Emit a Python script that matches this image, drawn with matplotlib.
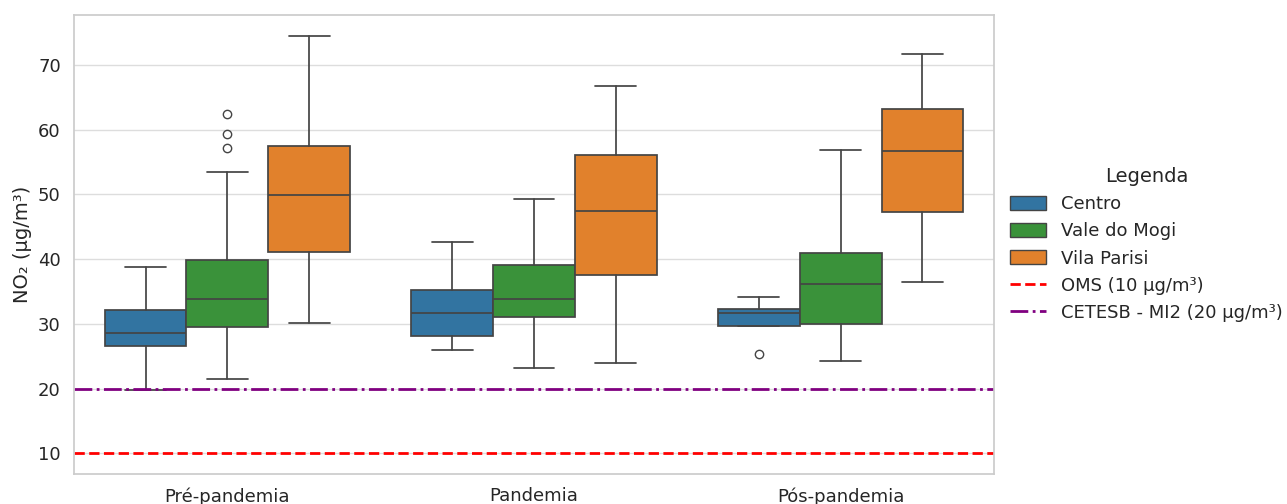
import matplotlib
matplotlib.use("Agg")
import matplotlib.pyplot as plt
from matplotlib.patches import Patch
import seaborn as sns

sns.set_theme(style="whitegrid")
plt.rcParams['font.family'] = ['DejaVu Sans']

periods = ['Pré-pandemia', 'Pandemia', 'Pós-pandemia']
stations = ['Centro', 'Vale do Mogi', 'Vila Parisi']
colors = ['#3274a1', '#3a923a', '#e1812c']

# statistics per station (rows) and period (columns)
whislo = [[19.85, 26.0, 29.7],
          [21.4, 23.2, 24.2],
          [30.2, 24.0, 36.4]]
q1 = [[26.5, 28.1, 29.7],
      [29.5, 31.1, 29.9],
      [41.05, 37.6, 47.2]]
med = [[28.6, 31.6, 31.6],
       [33.9, 33.9, 36.2],
       [49.95, 47.5, 56.7]]
q3 = [[32.1, 35.2, 32.3],
      [39.9, 39.15, 41.0],
      [57.5, 56.0, 63.2]]
whishi = [[38.7, 42.7, 34.2],
          [53.4, 49.3, 56.8],
          [74.5, 66.8, 71.7]]
fliers = [[[], [], [25.4]],
          [[62.4, 59.3, 57.1], [], []],
          [[], [], []]]

oms_limit = 10
cetesb_limit = 20

fig = plt.figure(figsize=(12.87, 5.04), dpi=100)
ax = fig.add_axes([74/1287, 30/504, 920/1287, 459/504])

line_c = '#444444'
width = 0.8 / 3
for j, st in enumerate(stations):
    stats = []
    pos = []
    for i, p in enumerate(periods):
        stats.append(dict(med=med[j][i], q1=q1[j][i], q3=q3[j][i],
                          whislo=whislo[j][i], whishi=whishi[j][i],
                          fliers=fliers[j][i]))
        pos.append(i + (j - 1) * width)
    ax.bxp(stats, positions=pos, widths=width, capwidths=width / 2,
           patch_artist=True, manage_ticks=False,
           boxprops=dict(facecolor=colors[j], edgecolor=line_c, linewidth=1.25),
           medianprops=dict(color=line_c, linewidth=1.25),
           whiskerprops=dict(color=line_c, linewidth=1.25),
           capprops=dict(color=line_c, linewidth=1.25),
           flierprops=dict(marker='o', markerfacecolor='none',
                           markeredgecolor=line_c, markersize=6))

l1 = ax.axhline(oms_limit, color='red', linestyle='--', linewidth=2,
                label='OMS (10 µg/m³)')
l2 = ax.axhline(cetesb_limit, color='purple', linestyle='-.', linewidth=2,
                label='CETESB - MI2 (20 µg/m³)')

ax.set_xlim(-0.5, 2.5)
ax.set_ylim(6.8, 77.7)
ax.set_xticks(range(len(periods)))
ax.set_xticklabels(periods)
ax.xaxis.grid(False)
ax.grid(axis='y', color='#dddddd')
ax.set_yticks([10, 20, 30, 40, 50, 60, 70])
ax.tick_params(labelsize=13)
ax.set_ylabel('NO₂ (µg/m³)', fontsize=14)

handles = [Patch(facecolor=c, edgecolor=line_c, label=s) for s, c in zip(stations, colors)]
handles += [l1, l2]
leg = ax.legend(handles=handles, title='Legenda', loc='center left',
                bbox_to_anchor=(1.0, 0.5), frameon=False, fontsize=13,
                title_fontsize=14, handleheight=0.8)

fig.savefig('out.png', dpi=100)
